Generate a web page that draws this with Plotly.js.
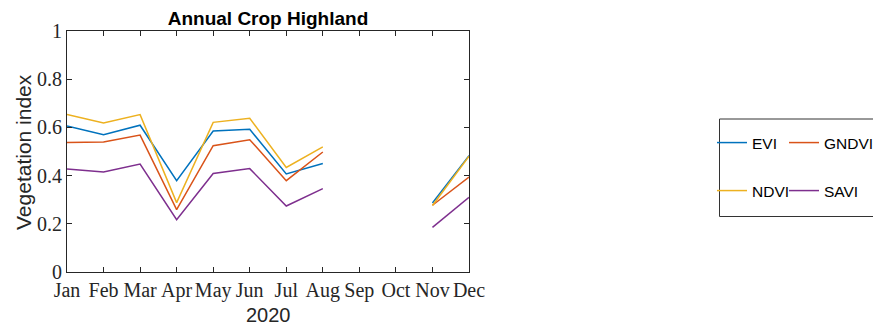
<!DOCTYPE html>
<html>
<head>
<meta charset="utf-8">
<script src="https://cdn.plot.ly/plotly-3.0.1.min.js"></script>
<style>html,body{margin:0;padding:0;background:#fff;}#chart{width:873px;height:329px;}</style>
</head>
<body>
<div id="chart"></div>
<script>
const months = ["Jan","Feb","Mar","Apr","May","Jun","Jul","Aug","Sep","Oct","Nov","Dec"];
const monthIdx = [1,2,3,4,5,6,7,8,9,10,11,12];
const evi   = [0.606,0.570,0.609,0.379,0.585,0.592,0.407,0.450,null,null,0.286,0.483];
const gndvi = [0.537,0.539,0.568,0.259,0.524,0.549,0.379,0.498,null,null,0.277,0.394];
const ndvi  = [0.654,0.618,0.653,0.288,0.621,0.638,0.434,0.519,null,null,0.276,0.480];
const savi  = [0.427,0.415,0.448,0.217,0.409,0.429,0.274,0.346,null,null,0.185,0.310];
const seriesNames = ["EVI","GNDVI","NDVI","SAVI"];
const yTicks = [0,0.2,0.4,0.6,0.8,1];

const colors = ["#0072BD","#D95319","#EDB120","#7E2F8E"];
const data = [evi,gndvi,ndvi,savi];
const legendIds = ["legend","legend2","legend3","legend4"];

const traces = data.map((ys,i)=>({
  x: monthIdx, y: ys, name: seriesNames[i], type:'scatter', mode:'lines',
  line:{color:colors[i], width:1.5}, connectgaps:false, legend: legendIds[i]
}));

// plot area in px: x 67..469, y 31..272
const L=67, R=469, T=31, B=272, W=873, H=329;
const px2x = p => (p-L)/(R-L);
const px2y = p => (B-p)/(B-T);

function leg(xpx, ypx){
  return {x:px2x(xpx), xanchor:'left', y:px2y(ypx), yanchor:'middle',
    bgcolor:'rgba(0,0,0,0)', borderwidth:0, itemwidth:30,
    font:{family:'Liberation Sans, Arial, sans-serif', size:15.5, color:'#000'}};
}

const axisCommon = {
  showgrid:false, zeroline:false, showline:true, linecolor:'#262626', linewidth:1,
  ticks:'inside', ticklen:5, tickcolor:'#262626', tickwidth:1, mirror:'ticks',
  tickfont:{family:'Liberation Serif, Times New Roman, serif', size:20, color:'#262626'}
};

const layout = {
  width:W, height:H,
  margin:{l:L, r:W-R, t:T, b:H-B, pad:0, autoexpand:false},
  paper_bgcolor:'#fff', plot_bgcolor:'#fff',
  title:{text:'<b>Annual Crop Highland</b>', x:0.5, xref:'paper', xanchor:'center',
    y:1-18.5/H, yref:'container', yanchor:'middle',
    font:{family:'Liberation Sans, Arial, sans-serif', size:19, color:'#000'}},
  xaxis:Object.assign({}, axisCommon, {range:[1,12], tickvals:monthIdx, ticktext:months, tickangle:0, fixedrange:true, automargin:false}),
  yaxis:Object.assign({}, axisCommon, {range:[0,1], tickvals:yTicks, fixedrange:true, automargin:false}),
  legend:leg(712,143), legend2:leg(784,143), legend3:leg(712,191), legend4:leg(784,191),
  shapes:[{type:'rect', xref:'paper', yref:'paper', x0:px2x(719.5), x1:px2x(880), y0:px2y(119), y1:px2y(216.5),
    line:{color:'#333', width:1}, fillcolor:'rgba(0,0,0,0)'}],
  annotations:[
    {text:'Vegetation index', xref:'paper', yref:'paper', x:px2x(23.5), y:px2y(152.5), xanchor:'center', yanchor:'middle',
      textangle:-90, showarrow:false, font:{family:'Liberation Sans, Arial, sans-serif', size:21, color:'#262626'}},
    {text:'2020', xref:'paper', yref:'paper', x:0.5, y:px2y(315), xanchor:'center', yanchor:'middle',
      showarrow:false, font:{family:'Liberation Sans, Arial, sans-serif', size:20, color:'#262626'}}
  ],
  showlegend:true
};

Plotly.newPlot('chart', traces, layout, {staticPlot:true, displayModeBar:false});
</script>
</body>
</html>
